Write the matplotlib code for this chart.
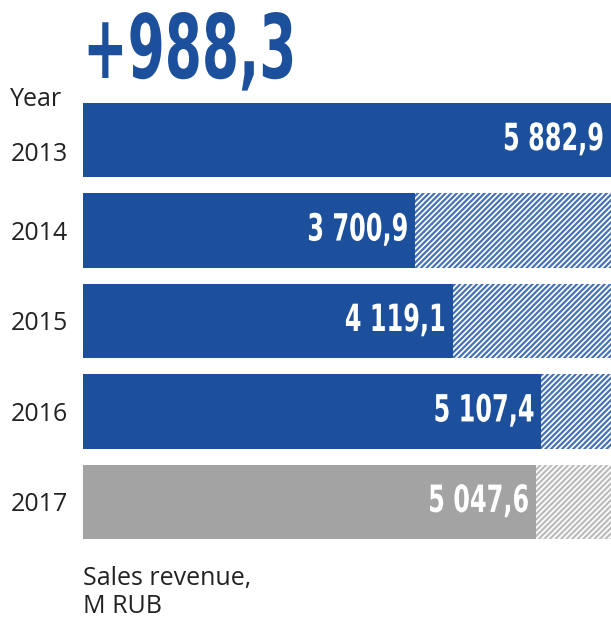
import matplotlib.pyplot as plt
from matplotlib import rcParams
from matplotlib.patheffects import AbstractPathEffect
from matplotlib.transforms import Affine2D, ScaledTranslation

years = ["2013", "2014", "2015", "2016", "2017"]
revenue = [5882.9, 3700.9, 4119.1, 5107.4, 5047.6]
growth = "+988,3"

BLUE = "#1c4f9c"
HATCH_BLUE = "#4672b6"
GREY = "#a3a3a3"
LIGHT_GREY = "#bcbcbc"

rcParams["hatch.linewidth"] = 1.6


class Squeeze(AbstractPathEffect):
    """Narrow the glyphs horizontally around the text anchor."""

    def __init__(self, sx):
        super().__init__()
        self.sx = sx
        self.text = None

    def draw_path(self, renderer, gc, tpath, affine, rgbFace=None):
        x0 = self.text.get_transform().transform(self.text.get_position())[0]
        t = affine + Affine2D().translate(-x0, 0).scale(self.sx, 1).translate(x0, 0)
        renderer.draw_path(gc, tpath, t, rgbFace)


def condensed(txt, sx):
    pe = Squeeze(sx)
    pe.text = txt
    txt.set_path_effects([pe])
    return txt


def fmt(v):
    s = "{:,.1f}".format(v)
    return s.replace(",", " ").replace(".", ",")


fig = plt.figure(figsize=(6.11, 6.25), dpi=100)
ax = fig.add_axes([83 / 611, 86 / 625, 528 / 611, 436 / 625])

top = max(revenue)
h = 0.82
for i, (y, v) in enumerate(zip(years, revenue)):
    last = i == len(years) - 1
    fill = GREY if last else BLUE
    hatch_col = LIGHT_GREY if last else HATCH_BLUE
    # remainder up to the best year, hatched
    ax.barh(i, top - v, left=v, height=h, color="white", edgecolor=hatch_col,
            hatch="//////", linewidth=0)
    ax.barh(i, v, height=h, color=fill, linewidth=0)
    t = ax.text(v - top * 0.013, i, fmt(v), color="white", ha="right", va="center",
                fontsize=27, fontweight="bold", family="DejaVu Sans")
    condensed(t, 0.64)

ax.set_xlim(0, top)
ax.set_ylim(len(years) - 1 + h / 2, -h / 2)
ax.set_yticks(range(len(years)))
ax.set_yticklabels(years, fontsize=18, family="Open Sans", color="#222222")
ax.tick_params(axis="y", length=0, pad=11)
ax.set_xticks([])
for s in ax.spines.values():
    s.set_visible(False)

# first year sits a little lower, under the "Year" header
lab = ax.get_yticklabels()[0]
lab.set_transform(lab.get_transform() + ScaledTranslation(0, -8 / 72, fig.dpi_scale_trans))

fig.text(10 / 611, 1 - 106 / 625, "Year", fontsize=18, family="Open Sans",
         color="#222222", va="baseline")
title = fig.text(83 / 611, 1 - 78 / 625, growth, fontsize=64, fontweight="bold",
                 family="DejaVu Sans", color=BLUE, va="baseline")
condensed(title, 0.6)
fig.text(83 / 611, 1 - 613 / 625, "Sales revenue,\nM RUB", fontsize=18,
         family="Open Sans", color="#222222", va="baseline", linespacing=1.15)

fig.savefig("out.png", dpi=100)
